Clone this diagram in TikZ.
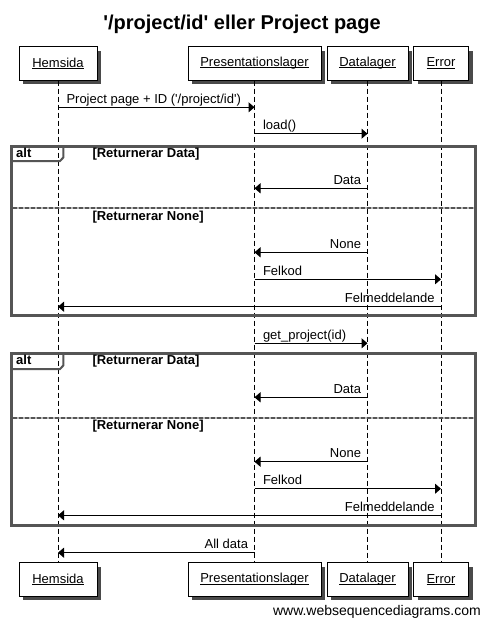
\documentclass[tikz,border=0pt]{standalone}
\usepackage{fontspec}
\setmainfont{Liberation Sans}
\usetikzlibrary{arrows.meta,shadows}
\definecolor{framegray}{HTML}{555555}
\definecolor{seplight}{HTML}{BBBBBB}
\definecolor{shadowgray}{HTML}{4A4A4A}
\newlength\ulw
\newcommand\ulin[1]{\settowidth\ulw{#1}\rlap{\rule[-1.6pt]{\ulw}{0.9pt}}#1}
\begin{document}
\begin{tikzpicture}[x=1pt,y=-1pt,
  participant/.style={draw=black, fill=white, line width=1pt, minimum width=#1,
    minimum height=33.5pt, inner sep=0pt, font=\fontsize{13}{15}\selectfont,
    general shadow={shadow xshift=4pt, shadow yshift=-4pt, fill=shadowgray}},
  lifeline/.style={draw=black, line width=0.9pt, dash pattern=on 5pt off 3pt},
  msg/.style={draw=black, line width=1pt, -{Triangle[length=6pt,width=10pt]}},
  lbl/.style={font=\fontsize{13}{15}\selectfont, inner sep=0pt},
  blbl/.style={font=\bfseries\fontsize{13}{15}\selectfont, inner sep=0pt, anchor=base west},
  altframe/.style={draw=framegray, line width=3pt},
  alttab/.style={draw=framegray, line width=2pt},
  sepbg/.style={draw=seplight, line width=2pt},
  sepfg/.style={draw=framegray, line width=2pt, dash pattern=on 4pt off 2pt}
]
\useasboundingbox (0,0) rectangle (484,619);
\fill[white] (0,0) rectangle (484,619);

\node[font=\bfseries\fontsize{20}{24}\selectfont] (title) at (242,24) {\textquotesingle/project/id\textquotesingle{} eller Project page};

% participants top
\node[participant=78pt]  (Ht) at (58,63.3)   {\ulin{Hemsida}};
\node[participant=133pt] (Pt) at (254.5,63.3) {\ulin{Presentationslager}};
\node[participant=81pt]  (Dt) at (367.5,63.3) {\ulin{Datalager}};
\node[participant=55pt]  (Et) at (441,63.3)   {\ulin{Error}};
% participants bottom
\node[participant=78pt]  (Hb) at (58,579.5)   {\ulin{Hemsida}};
\node[participant=133pt] (Pb) at (254.5,579.5) {\ulin{Presentationslager}};
\node[participant=81pt]  (Db) at (367.5,579.5) {\ulin{Datalager}};
\node[participant=55pt]  (Eb) at (441,579.5)   {\ulin{Error}};

% lifelines
\draw[lifeline] (Ht.south) -- (Hb.north);
\draw[lifeline] (Pt.south) -- (Pb.north);
\draw[lifeline] (Dt.south) -- (Db.north);
\draw[lifeline] (Et.south) -- (Eb.north);

% alt frame 1
\draw[altframe] (11,146) rectangle (475,315.7);
\draw[alttab] (63.3,146) -- (63.3,157.5) -- (60,161) -- (11,161);
\node[blbl] (alt1) at (16,157) {alt};
\node[blbl] (g1a) at (92.3,157) {[Returnerar Data]};
\draw[sepbg] (12.5,208.3) -- (473.5,208.3);
\draw[sepfg] (12.5,208.3) -- (473.5,208.3);
\node[blbl] (g1b) at (92.3,220) {[Returnerar None]};

% alt frame 2
\draw[altframe] (11,353.3) rectangle (475,525);
\draw[alttab] (63.3,353.3) -- (63.3,365.5) -- (60,369) -- (11,369);
\node[blbl] (alt2) at (16,364.5) {alt};
\node[blbl] (g2a) at (92.3,364.5) {[Returnerar Data]};
\draw[sepbg] (12.5,417.7) -- (473.5,417.7);
\draw[sepfg] (12.5,417.7) -- (473.5,417.7);
\node[blbl] (g2b) at (92.3,429.5) {[Returnerar None]};

% messages
\draw[msg] (Ht.south |- 0,107.3) -- (Pt.south |- 0,107.3)
  node[pos=0, lbl, anchor=base west, xshift=8pt, yshift=4pt] {Project page + ID (\textquotesingle/project/id\textquotesingle)};
\draw[msg] (Pt.south |- 0,133.7) -- (Dt.south |- 0,133.7)
  node[pos=0, lbl, anchor=base west, xshift=8pt, yshift=4pt] {load()};
\draw[msg] (Dt.south |- 0,188.3) -- (Pt.south |- 0,188.3)
  node[pos=0, lbl, anchor=base east, xshift=-6pt, yshift=4pt] {Data};
\draw[msg] (Dt.south |- 0,252.3) -- (Pt.south |- 0,252.3)
  node[pos=0, lbl, anchor=base east, xshift=-6pt, yshift=4pt] {None};
\draw[msg] (Pt.south |- 0,279.3) -- (Et.south |- 0,279.3)
  node[pos=0, lbl, anchor=base west, xshift=8pt, yshift=4pt] {Felkod};
\draw[msg] (Et.south |- 0,306.7) -- (Ht.south |- 0,306.7)
  node[pos=0, lbl, anchor=base east, xshift=-6pt, yshift=4pt] {Felmeddelande};
\draw[msg] (Pt.south |- 0,343.3) -- (Dt.south |- 0,343.3)
  node[pos=0, lbl, anchor=base west, xshift=8pt, yshift=4pt] {get\_project(id)};
\draw[msg] (Dt.south |- 0,397.3) -- (Pt.south |- 0,397.3)
  node[pos=0, lbl, anchor=base east, xshift=-6pt, yshift=4pt] {Data};
\draw[msg] (Dt.south |- 0,461.7) -- (Pt.south |- 0,461.7)
  node[pos=0, lbl, anchor=base east, xshift=-6pt, yshift=4pt] {None};
\draw[msg] (Pt.south |- 0,488.7) -- (Et.south |- 0,488.7)
  node[pos=0, lbl, anchor=base west, xshift=8pt, yshift=4pt] {Felkod};
\draw[msg] (Et.south |- 0,515.3) -- (Ht.south |- 0,515.3)
  node[pos=0, lbl, anchor=base east, xshift=-6pt, yshift=4pt] {Felmeddelande};
\draw[msg] (Pt.south |- 0,552.7) -- (Ht.south |- 0,552.7)
  node[pos=0, lbl, anchor=base east, xshift=-6pt, yshift=4pt] {All data};

\node[lbl, anchor=base east, font=\fontsize{14}{16}\selectfont] (wm) at (481,615.5) {www.websequencediagrams.com};
\end{tikzpicture}
\end{document}
